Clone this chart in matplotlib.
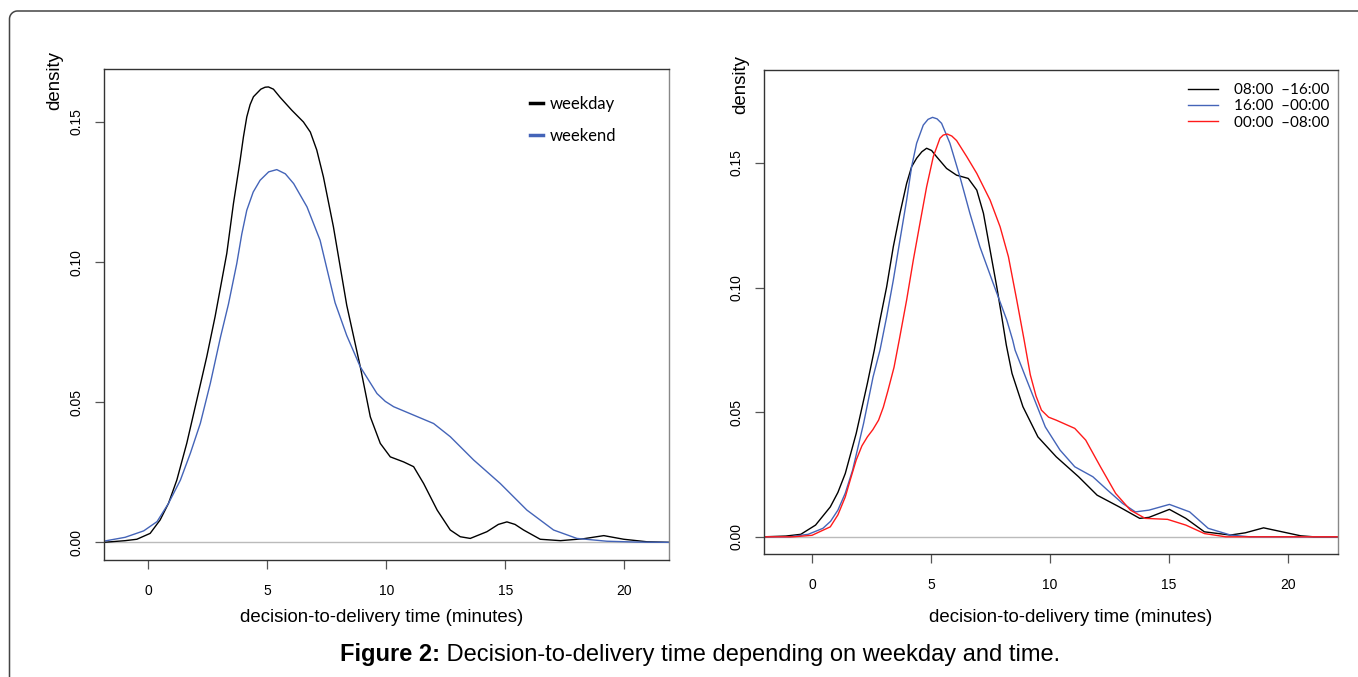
import numpy as np
import matplotlib.pyplot as plt
from matplotlib.lines import Line2D

# ---- left panel: weekday / weekend densities
wd_x = [-1.89, -0.98, -0.49, 0.07, 0.49, 0.84, 1.19, 1.61, 2.03, 2.45, 2.80,
        3.29, 3.57, 3.85, 3.99, 4.13, 4.27, 4.41, 4.72, 4.90, 5.04, 5.25, 5.53, 6.02,
        6.51, 6.80, 7.07, 7.35, 7.77, 8.33, 8.90, 9.32, 9.74, 10.16, 10.72, 11.14, 11.56,
        12.13, 12.68, 13.10, 13.52, 14.22, 14.70, 15.06, 15.40, 15.76, 16.46, 17.31,
        18.29, 19.13, 19.97, 20.95, 21.87]
wd_y = [0.0, 0.0006, 0.0011, 0.0032, 0.0080, 0.0139, 0.0222, 0.0354, 0.0508, 0.0663,
        0.0806, 0.1031, 0.1209, 0.1363, 0.1447, 0.1518, 0.1562, 0.1590, 0.1617, 0.1624,
        0.1625, 0.1617, 0.1588, 0.1542, 0.1500, 0.1464, 0.1400, 0.1304, 0.1126, 0.0846,
        0.0626, 0.0448, 0.0353, 0.0305, 0.0287, 0.0270, 0.0210, 0.0115, 0.0044, 0.0020,
        0.0014, 0.0038, 0.0064, 0.0073, 0.0064, 0.0044, 0.0011, 0.0006, 0.0013, 0.0024,
        0.0011, 0.0002, 0.0]
we_x = [-1.89, -0.98, -0.20, 0.36, 0.84, 1.34, 1.76, 2.18, 2.60, 3.03, 3.36, 3.71,
        3.92, 4.13, 4.40, 4.69, 5.05, 5.39, 5.75, 6.10, 6.66, 7.21, 7.50, 7.84, 8.33,
        8.90, 9.60, 9.95, 10.30, 11.14, 11.98, 12.68, 13.66, 14.78, 15.90, 17.02, 18.00,
        19.26, 20.50, 21.87]
we_y = [0.0004, 0.0018, 0.0041, 0.0074, 0.0139, 0.0222, 0.0318, 0.0425, 0.0568, 0.0734,
        0.0850, 0.0995, 0.1100, 0.1185, 0.1250, 0.1292, 0.1322, 0.1330, 0.1315, 0.1280,
        0.1197, 0.1078, 0.0975, 0.0855, 0.0738, 0.0626, 0.0531, 0.0503, 0.0484, 0.0454,
        0.0424, 0.0377, 0.0294, 0.0210, 0.0115, 0.0044, 0.0014, 0.0004, 0.0001, 0.0]

# ---- right panel: shift densities
day_x = [-2.03, -1.10, -0.47, 0.15, 0.77, 1.09, 1.40, 1.86, 2.33, 2.62, 2.86, 3.14,
         3.42, 3.70, 3.98, 4.19, 4.40, 4.62, 4.82, 5.03, 5.24, 5.66, 6.08, 6.57, 6.93,
         7.21, 7.49, 7.77, 7.98, 8.17, 8.41, 8.87, 9.50, 10.27, 11.21, 11.99, 12.92,
         13.78, 14.17, 15.03, 15.72, 16.50, 17.59, 18.22, 18.99, 19.77, 20.55, 21.10, 22.11]
day_y = [0.0, 0.0003, 0.0010, 0.0047, 0.0120, 0.0178, 0.0254, 0.0415, 0.0616, 0.0749,
         0.0870, 0.1003, 0.1164, 0.1298, 0.1418, 0.1485, 0.1519, 0.1545, 0.1559, 0.1550,
         0.1525, 0.1478, 0.1451, 0.1438, 0.1391, 0.1298, 0.1150, 0.1003, 0.0883, 0.0770,
         0.0656, 0.0522, 0.0401, 0.0321, 0.0241, 0.0167, 0.0120, 0.0074, 0.0078, 0.0110,
         0.0074, 0.0020, 0.0007, 0.0016, 0.0036, 0.0020, 0.0004, 0.0, 0.0]
eve_x = [-2.03, -0.94, -0.16, 0.46, 0.78, 1.09, 1.40, 1.71, 2.17, 2.57, 2.86, 3.14,
         3.42, 3.70, 3.98, 4.19, 4.40, 4.68, 4.88, 5.07, 5.26, 5.45, 5.80, 6.22, 6.64,
         7.06, 7.62, 8.19, 8.44, 8.54, 9.03, 9.81, 10.43, 11.05, 11.81, 12.43, 13.06,
         13.60, 14.17, 15.03, 15.88, 16.66, 17.60, 18.40, 22.11]
eve_y = [0.0, 0.0, 0.0010, 0.0034, 0.0062, 0.0107, 0.0175, 0.0268, 0.0455, 0.0642,
         0.0749, 0.0883, 0.1030, 0.1191, 0.1351, 0.1485, 0.1579, 0.1652, 0.1675, 0.1683,
         0.1677, 0.1659, 0.1579, 0.1445, 0.1298, 0.1164, 0.1017, 0.0870, 0.0789, 0.0749,
         0.0629, 0.0441, 0.0348, 0.0281, 0.0241, 0.0187, 0.0134, 0.0100, 0.0107, 0.0130,
         0.0100, 0.0034, 0.0007, 0.0, 0.0]
night_x = [-2.03, -0.78, 0.00, 0.77, 1.09, 1.40, 1.63, 1.86, 2.10, 2.33, 2.56, 2.80,
           3.00, 3.19, 3.45, 3.67, 3.98, 4.26, 4.54, 4.82, 5.10, 5.38, 5.52, 5.69, 5.88,
           6.08, 6.51, 6.93, 7.49, 7.91, 8.26, 8.61, 8.92, 9.18, 9.42, 9.65, 9.95, 10.27,
           11.05, 11.51, 12.13, 12.77, 13.39, 14.01, 14.95, 15.72, 16.50, 17.40, 22.11]
night_y = [0.0, 0.0, 0.0006, 0.0040, 0.0088, 0.0160, 0.0235, 0.0308, 0.0365, 0.0401,
           0.0430, 0.0468, 0.0520, 0.0585, 0.0680, 0.0790, 0.0950, 0.1110, 0.1258, 0.1404,
           0.1525, 0.1599, 0.1612, 0.1616, 0.1608, 0.1590, 0.1525, 0.1458, 0.1351, 0.1244,
           0.1124, 0.0950, 0.0790, 0.0650, 0.0565, 0.0508, 0.0480, 0.0468, 0.0435, 0.0388,
           0.0281, 0.0174, 0.0107, 0.0074, 0.0070, 0.0047, 0.0013, 0.0, 0.0]

xticks = [0, 5, 10, 15, 20]
yticks = [0.0, 0.05, 0.10, 0.15]
ytick_labels = ['0.00', '0.05', '0.10', '0.15']
shift_labels = ['08:00  \u201316:00', '16:00  \u201300:00', '00:00  \u201308:00']

BLUE = '#4464b8'
RED = '#ff1a1a'

plt.rcParams['font.family'] = ['Liberation Sans', 'DejaVu Sans']

W, H = 1358, 677
fig = plt.figure(figsize=(W / 100, H / 100), dpi=100)


def px_axes(x0, y0, x1, y1):
    return fig.add_axes([x0 / W, 1 - y1 / H, (x1 - x0) / W, (y1 - y0) / H])


def r_style(ax, xlim, ylim):
    for s in ax.spines.values():
        s.set_color('#333333')
        s.set_linewidth(1.0)
    ax.spines['right'].set_color('#888888')
    ax.axhline(0, color='#bbbbbb', lw=1, zorder=0)
    ax.set_xlim(*xlim)
    ax.set_ylim(*ylim)
    ax.set_xticks(xticks)
    ax.set_yticks(yticks)
    ax.set_yticklabels(ytick_labels)
    ax.tick_params(direction='out', length=6.5, width=0.9, color='#555555',
                   labelsize=10, pad=11)
    ax.tick_params(axis='y', pad=8)
    plt.setp(ax.get_yticklabels(), rotation=90, va='center')


ax1 = px_axes(103.5, 69, 669, 560)
ax1.plot(wd_x, wd_y, color='black', lw=1.0)
ax1.plot(we_x, we_y, color=BLUE, lw=1.0)
r_style(ax1, (-1.89, 21.87), (-0.0063, 0.1689))
h1 = [Line2D([], [], color='black', lw=2.5), Line2D([], [], color=BLUE, lw=2.5)]
ax1.legend(h1, ['weekday', 'weekend'], loc='upper left', bbox_to_anchor=(0.754, 0.945),
           frameon=False, borderpad=0, borderaxespad=0, handlelength=0.8,
           handletextpad=0.4, labelspacing=0.93, prop={'family': 'Lato', 'size': 12})

ax2 = px_axes(763.7, 70, 1337.8, 554)
ax2.plot(day_x, day_y, color='black', lw=1.0, label=shift_labels[0])
ax2.plot(eve_x, eve_y, color=BLUE, lw=1.0, label=shift_labels[1])
ax2.plot(night_x, night_y, color=RED, lw=1.0, label=shift_labels[2])
r_style(ax2, (-2.03, 22.11), (-0.0069, 0.1873))
ax2.legend(loc='upper left', bbox_to_anchor=(0.739, 0.973), frameon=False, borderpad=0,
           borderaxespad=0, handlelength=1.96, handletextpad=1.05, labelspacing=0.15,
           prop={'family': 'Lato', 'size': 11})

# axis titles placed like the original
fig.text(55 / W, 1 - 80 / H, 'density', rotation=90, ha='center', va='center', fontsize=13.4)
fig.text(741 / W, 1 - 84 / H, 'density', rotation=90, ha='center', va='center', fontsize=13.4)
fig.text(382 / W, 1 - 617 / H, 'decision-to-delivery time (minutes)', ha='center',
         va='center', fontsize=13.4)
fig.text(1071 / W, 1 - 617 / H, 'decision-to-delivery time (minutes)', ha='center',
         va='center', fontsize=13.4)

# caption
fig.text(440 / W, 1 - 655 / H, 'Figure 2:', ha='right', va='center', fontsize=17,
         fontweight='bold')
fig.text(440 / W, 1 - 655 / H, ' Decision-to-delivery time depending on weekday and time.',
         ha='left', va='center', fontsize=17)

# rounded frame on the left/top
frame = fig.add_axes([0, 0, 1, 1], zorder=-1)
frame.set_xlim(0, W)
frame.set_ylim(H, 0)
frame.axis('off')
r = 8
t = np.linspace(np.pi, 1.5 * np.pi, 20)
fx = np.concatenate([[9.5], 9.5 + r + r * np.cos(t), [W + 5]])
fy = np.concatenate([[H + 5], 11 + r + r * np.sin(t), [11]])
frame.plot(fx, fy, color='#444444', lw=1.1)

fig.savefig('out.png', dpi=100)
